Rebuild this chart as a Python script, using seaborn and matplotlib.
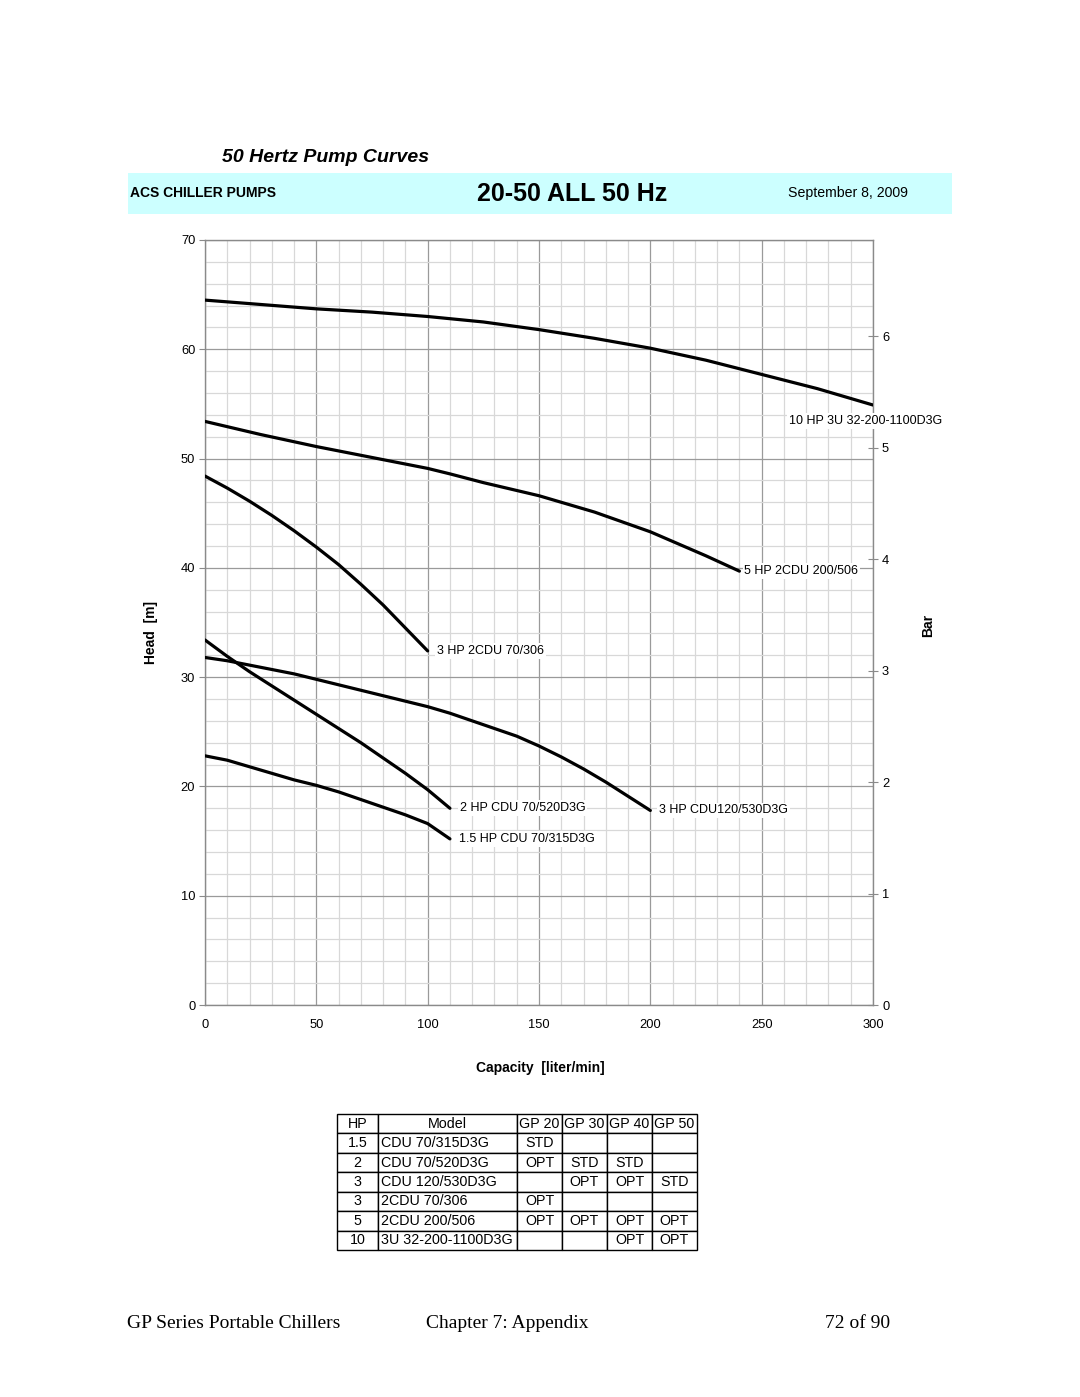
import numpy as np
import pandas as pd
import matplotlib
matplotlib.use("Agg")
import matplotlib.pyplot as plt
from matplotlib.patches import Rectangle
from matplotlib.ticker import MultipleLocator
import seaborn as sns

# ---------------- data ----------------
q_10hp = [0, 25, 50, 75, 100, 125, 150, 175, 200, 225, 250, 275, 300]
h_10hp = [64.5, 64.1, 63.7, 63.4, 63.0, 62.5, 61.8, 61.0, 60.1, 59.0, 57.7, 56.4, 54.9]

q_5hp = [0, 25, 50, 75, 100, 110, 125, 150, 175, 200, 225, 240]
h_5hp = [53.4, 52.2, 51.1, 50.1, 49.1, 48.6, 47.8, 46.6, 45.1, 43.3, 41.1, 39.7]

q_3hp_2cdu = [0, 10, 20, 30, 40, 50, 60, 70, 80, 90, 100]
h_3hp_2cdu = [48.4, 47.3, 46.1, 44.8, 43.4, 41.9, 40.3, 38.5, 36.6, 34.5, 32.4]

q_3hp_cdu = [0, 10, 20, 30, 40, 50, 60, 70, 80, 90, 100, 110, 120, 130, 140, 150,
             160, 170, 180, 190, 200]
h_3hp_cdu = [31.8, 31.5, 31.1, 30.7, 30.3, 29.8, 29.3, 28.8, 28.3, 27.8, 27.3, 26.7,
             26.0, 25.3, 24.6, 23.7, 22.7, 21.6, 20.4, 19.1, 17.8]

q_2hp = [0, 10, 20, 30, 40, 50, 60, 70, 80, 90, 100, 110]
h_2hp = [33.4, 31.9, 30.5, 29.2, 27.9, 26.6, 25.3, 24.0, 22.6, 21.2, 19.7, 18.0]

q_15hp = [0, 10, 20, 30, 40, 50, 60, 70, 80, 90, 100, 110]
h_15hp = [22.8, 22.4, 21.8, 21.2, 20.6, 20.1, 19.5, 18.8, 18.1, 17.4, 16.6, 15.2]

curve_labels = ["10 HP 3U 32-200-1100D3G", "5 HP 2CDU 200/506", "3 HP 2CDU 70/306",
                "3 HP CDU120/530D3G", "2 HP CDU 70/520D3G", "1.5 HP CDU 70/315D3G"]

table_header = ["HP", "Model", "GP 20", "GP 30", "GP 40", "GP 50"]
table_hp = ["1.5", "2", "3", "3", "5", "10"]
table_model = ["CDU 70/315D3G", "CDU 70/520D3G", "CDU 120/530D3G", "2CDU 70/306",
               "2CDU 200/506", "3U 32-200-1100D3G"]
table_gp20 = ["STD", "OPT", "", "OPT", "OPT", ""]
table_gp30 = ["", "STD", "OPT", "", "OPT", ""]
table_gp40 = ["", "STD", "OPT", "", "OPT", "OPT"]
table_gp50 = ["", "", "STD", "", "OPT", "OPT"]

x_ticks = [0, 50, 100, 150, 200, 250, 300]
y_ticks = [0, 10, 20, 30, 40, 50, 60, 70]
bar_ticks = [0, 1, 2, 3, 4, 5, 6]

# ---------------- style ----------------
sns.set_theme(style="white")
plt.rcParams["font.family"] = ["Liberation Sans", "DejaVu Sans"]
plt.rcParams["text.color"] = "black"
plt.rcParams["axes.labelcolor"] = "black"
plt.rcParams["xtick.labelcolor"] = "black"
plt.rcParams["ytick.labelcolor"] = "black"

W, H = 1080, 1397
fig = plt.figure(figsize=(W / 100, H / 100), dpi=100)
fig.patch.set_facecolor("white")

def fx(px):
    return px / W

def fy(py):
    return 1 - py / H

ax = fig.add_axes([fx(205), fy(1005), fx(873) - fx(205), fy(240) - fy(1005)])

curves = [
    (q_10hp, h_10hp), (q_5hp, h_5hp), (q_3hp_2cdu, h_3hp_2cdu),
    (q_3hp_cdu, h_3hp_cdu), (q_2hp, h_2hp), (q_15hp, h_15hp),
]
frames = []
for lab, (q, h) in zip(curve_labels, curves):
    frames.append(pd.DataFrame({"q": q, "h": h, "pump": lab}))
df = pd.concat(frames, ignore_index=True)

sns.lineplot(data=df, x="q", y="h", hue="pump", units="pump", estimator=None,
             palette=["black"] * len(curve_labels), legend=False, lw=2.3,
             sort=False, ax=ax, zorder=5)

ax.set_xlim(0, 300)
ax.set_ylim(0, 70)
ax.xaxis.set_minor_locator(MultipleLocator(10))
ax.yaxis.set_minor_locator(MultipleLocator(2))
ax.set_xticks(x_ticks)
ax.set_yticks(y_ticks)
ax.grid(which="minor", color="#d8d8d8", lw=0.9, zorder=0)
ax.grid(which="major", color="#9a9a9a", lw=0.9, zorder=0)
ax.set_axisbelow(True)
for s in ax.spines.values():
    s.set_color("#8a8a8a")
    s.set_linewidth(1.0)
ax.tick_params(axis="both", which="major", direction="out", length=4, width=0.8,
               color="#8a8a8a", labelsize=9.3, labelcolor="black")
ax.tick_params(axis="both", which="minor", length=0)
ax.tick_params(axis="y", pad=3)
ax.tick_params(axis="x", pad=6)
ax.set_xlabel("Capacity  [liter/min]", fontsize=10, fontweight="bold", color="black")
ax.set_ylabel("Head  [m]", fontsize=10, fontweight="bold", color="black")
ax.xaxis.set_label_coords((540 - 205) / (873 - 205), -(1061 - 1005) / (1005 - 240))
ax.yaxis.set_label_coords(-(205 - 158) / (873 - 205), (1005 - 632) / (1005 - 240))

ax2 = ax.twinx()
ax2.set_ylim(0, 70 * 0.0980665)
ax2.set_yticks(bar_ticks)
ax2.tick_params(axis="y", direction="inout", length=7, width=0.8, color="#8a8a8a",
                labelsize=9.3, labelcolor="black", pad=3)
ax2.grid(False)
for s in ax2.spines.values():
    s.set_visible(False)
ax2.set_ylabel("Bar", fontsize=10, fontweight="bold", color="black")
ax2.yaxis.set_label_coords(1 + (921 - 873) / (873 - 205), (1005 - 625) / (1005 - 240))

# put the main axes (with its labels) above the twin axes
ax.set_zorder(ax2.get_zorder() + 1)
ax.patch.set_visible(False)

# curve labels anchored to the end point of each curve
offsets = [(-60.5, -11.5), (3.6, 0), (6.5, 0), (6.5, 0), (7.0, 0), (6.5, 0)]
for (q, h), lab, off in zip(curves, curve_labels, offsets):
    ax.annotate(lab, xy=(q[-1], h[-1]), xytext=off, textcoords="offset points",
                ha="left", va="center", fontsize=9, zorder=10, color="black",
                bbox=dict(boxstyle="square,pad=0.15", fc="white", ec="none"))

# ---------------- header ----------------
fig.text(fx(222), fy(157), "50 Hertz Pump Curves", fontsize=14, fontweight="bold",
         fontstyle="italic", ha="left", va="center")
fig.patches.append(Rectangle((fx(128), fy(214)), fx(952) - fx(128), fy(173) - fy(214),
                             transform=fig.transFigure, facecolor="#ccffff",
                             edgecolor="none", zorder=0))
fig.text(fx(130), fy(193), "ACS CHILLER PUMPS", fontsize=10, fontweight="bold",
         ha="left", va="center")
fig.text(fx(572), fy(194), "20-50 ALL 50 Hz", fontsize=18, fontweight="bold",
         ha="center", va="center")
fig.text(fx(908), fy(193), "September 8, 2009", fontsize=10.2, ha="right", va="center")

# ---------------- table ----------------
tax = fig.add_axes([fx(337), fy(1250), fx(697) - fx(337), fy(1114) - fy(1250)])
tax.axis("off")
rows = [table_header] + [list(r) for r in zip(table_hp, table_model, table_gp20,
                                              table_gp30, table_gp40, table_gp50)]
col_w = np.array([41, 139, 45, 45, 45, 45], dtype=float)
col_w = col_w / col_w.sum()
tbl = tax.table(cellText=rows, colWidths=list(col_w), cellLoc="center",
                bbox=[0, 0, 1, 1])
tbl.auto_set_font_size(False)
for (r, c), cell in tbl.get_celld().items():
    cell.set_edgecolor("black")
    cell.set_linewidth(1.0)
    cell.get_text().set_fontsize(10.3)
    cell.get_text().set_color("black")
    if c == 1 and r > 0:
        cell.get_text().set_ha("left")
        cell.PAD = 0.02

# ---------------- footer ----------------
serif = ["Liberation Serif", "DejaVu Serif"]
fig.text(fx(127), fy(1323), "GP Series Portable Chillers", fontsize=14, family=serif,
         ha="left", va="center")
fig.text(fx(426), fy(1323), "Chapter 7: Appendix", fontsize=14, family=serif,
         ha="left", va="center")
fig.text(fx(890), fy(1323), "72 of 90", fontsize=14, family=serif,
         ha="right", va="center")

fig.savefig("out.png", dpi=100, facecolor="white")
